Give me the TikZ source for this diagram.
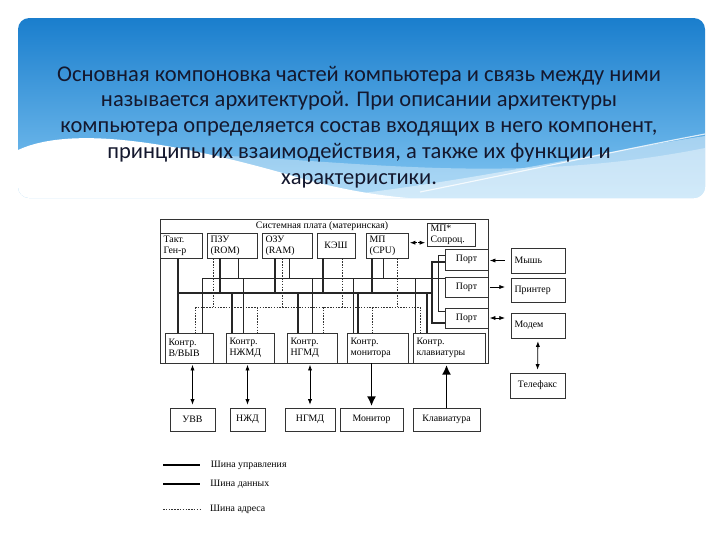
\documentclass[tikz,border=0pt]{standalone}
\usepackage{fontspec}
\setmainfont{Liberation Serif}
\newfontfamily\headfont{Carlito}
\usetikzlibrary{arrows.meta,positioning}
\definecolor{slideblue}{RGB}{26,126,205}
\definecolor{slidemid}{RGB}{70,165,228}
\definecolor{slidelow}{RGB}{130,198,242}
\definecolor{headink}{RGB}{20,24,46}

\begin{document}
\begin{tikzpicture}[x=0.025cm, y=-0.025cm,
  blk/.style={draw=black!80, line width=0.6pt, fill=white, inner xsep=2.5pt, inner ysep=0pt,
    font=\fontsize{7}{7.8}\selectfont, align=left},
  ctrl/.style={line width=1.4pt, draw=black!85},
  data/.style={line width=0.55pt, draw=black!85},
  addr/.style={line width=0.55pt, draw=black!80, dash pattern=on 1.1pt off 0.9pt},
  arr/.style={line width=0.55pt, -{Latex[length=4pt,width=3pt]}},
  darr/.style={line width=0.55pt, {Latex[length=4pt,width=3pt]}-{Latex[length=4pt,width=3pt]}},
  bigarr/.style={line width=1.4pt, -{Latex[length=7pt,width=6.5pt]}},
  lbl/.style={font=\fontsize{7}{8}\selectfont, inner sep=0pt}]
% box: [options]{name}{x1}{y1}{x2}{y2}{text}, pixel coordinates
\newcommand{\mkbox}[7][]{%
  \pgfmathsetmacro{\bw}{(#5-#3)*0.025}
  \pgfmathsetmacro{\bh}{(#6-#4)*0.025}
  \pgfmathsetmacro{\tw}{(#5-#3)*0.025-0.18}
  \node[blk, minimum width=\bw cm, minimum height=\bh cm, text width=\tw cm, #1]
    (#2) at ({(#3+#5)/2},{(#4+#6)/2}) {#7};
}
\useasboundingbox (0,0) rectangle (720,540);
\fill[white] (0,0) rectangle (720,540);
% slide header
\shade[top color=slideblue, middle color=slidemid, bottom color=slidelow, rounded corners=8pt]
  (18,18) rectangle (705,198);
\begin{scope}
  \clip[rounded corners=8pt] (18,18) rectangle (705,198);
  \fill[white, opacity=0.35] (18,172) .. controls (200,120) and (420,205) .. (705,148) -- (705,200) -- (18,200) -- cycle;
  \fill[white] (18,150) .. controls (70,126) and (170,140) .. (300,178)
    .. controls (360,195) and (420,202) .. (480,200) -- (18,200) -- cycle;
  \fill[white, opacity=0.45] (300,200) .. controls (450,186) and (600,152) .. (705,136) -- (705,200) -- cycle;
  \draw[white, line width=0.8pt, opacity=0.8] (420,192) .. controls (520,172) and (620,150) .. (705,134);
\end{scope}
\node[font=\headfont\fontsize{16}{18.4}\selectfont, text=headink, align=center] (head) at (359,127)
  {Основная компоновка частей компьютера и связь между ними\\
   называется архитектурой. При описании архитектуры\\
   компьютера определяется состав входящих в него компонент,\\
   принципы их взаимодействия, а также их функции и\\
   характеристики.};

% system board frame
\mkbox[fill=none]{board}{160}{219}{488}{363}{}
\node[lbl] (boardttl) at (322,226) {Системная плата (материнская)};

% bus levels
\coordinate (dbus) at (0,278);
\coordinate (cbus) at (0,293);
\coordinate (abus) at (0,307);

% top row
\mkbox{gen}{160}{233}{202}{258}{Такт.\\Ген-р}
\mkbox{rom}{207}{233}{257}{258}{ПЗУ\\(ROM)}
\mkbox{ram}{262}{233}{312}{258}{ОЗУ\\(RAM)}
\mkbox[align=center]{cache}{317}{233}{355}{258}{КЭШ}
\mkbox{cpu}{366}{233}{408}{258}{МП\\(CPU)}
\mkbox{copro}{427}{223}{475}{246}{МП*\\Сопроц.}
% ports
\mkbox[align=center]{port1}{445}{249}{488}{270}{Порт}
\mkbox[align=center]{port2}{445}{277}{488}{297}{Порт}
\mkbox[align=center]{port3}{445}{308}{488}{328}{Порт}
% controllers
\mkbox{kio}{165}{333}{213}{363}{Контр.\\В/ВЫВ}
\mkbox{khdd}{226}{333}{274}{363}{Контр.\\НЖМД}
\mkbox{kfdd}{287}{333}{337}{363}{Контр.\\НГМД}
\mkbox{kmon}{347}{333}{408}{363}{Контр.\\монитора}
\mkbox{kkbd}{413}{333}{485}{363}{Контр.\\клавиатуры}
% outside devices
\mkbox{mouse}{511}{248}{565}{273}{Мышь}
\mkbox{printer}{511}{278}{565}{302}{Принтер}
\mkbox{modem}{511}{313}{565}{338}{Модем}
\mkbox[align=center]{fax}{510}{373}{565}{398}{Телефакс}
\mkbox[align=center]{uvv}{170}{408}{215}{431}{УВВ}
\mkbox[align=center]{hdd}{230}{408}{265}{431}{НЖД}
\mkbox[align=center]{fdd}{285}{408}{335}{431}{НГМД}
\mkbox[align=center]{mon}{340}{408}{403}{431}{Монитор}
\mkbox[align=center]{kbd}{413}{408}{480}{431}{Клавиатура}

% buses
\draw[data] (dbus -| 202,0) -- (dbus -| port2.west);
\draw[ctrl] (cbus -| 178,0) -- (cbus -| 432,0);
\draw[addr] (abus -| 195,0) -- (abus -| 420,0);

% taps from the top row
\draw[ctrl] (gen.south -| 178,0) -- (kio.north -| 178,0);
\draw[ctrl] (rom.south -| 220,0) -- (cbus -| 220,0);
\draw[addr] (rom.south -| 213,0) -- (abus -| 213,0);
\draw[data] (rom.south -| 238,0) -- (dbus -| 238,0);
\draw[ctrl] (ram.south -| 275,0) -- (cbus -| 275,0);
\draw[addr] (ram.south -| 282,0) -- (abus -| 282,0);
\draw[data] (ram.south -| 289,0) -- (dbus -| 289,0);
\draw[ctrl] (cache.south -| 323,0) -- (cbus -| 323,0);
\draw[addr] (cache.south -| 342,0) -- (abus -| 342,0);
\draw[ctrl] (cpu.south -| 372,0) -- (cbus -| 372,0);
\draw[data] (cpu.south -| 383,0) -- (dbus -| 383,0);
\draw[addr] (cpu.south -| 397,0) -- (abus -| 397,0);

% taps to the controllers
\draw[addr] (abus -| 195,0) -- (kio.north -| 195,0);
\draw[data] (dbus -| 202,0) -- (kio.north -| 202,0);
\draw[ctrl] (cbus -| 232,0) -- (khdd.north -| 232,0);
\draw[data] (dbus -| 243,0) -- (khdd.north -| 243,0);
\draw[addr] (abus -| 257,0) -- (khdd.north -| 257,0);
\draw[ctrl] (cbus -| 298,0) -- (kfdd.north -| 298,0);
\draw[data] (dbus -| 312,0) -- (kfdd.north -| 312,0);
\draw[addr] (abus -| 323,0) -- (kfdd.north -| 323,0);
\draw[data] (dbus -| 353,0) -- (kmon.north -| 353,0);
\draw[ctrl] (cbus -| 358,0) -- (kmon.north -| 358,0);
\draw[addr] (abus -| 372,0) -- (kmon.north -| 372,0);
\draw[data] (dbus -| 415,0) -- (kkbd.north -| 415,0);
\draw[addr] (abus -| 420,0) -- (kkbd.north -| 420,0);
\draw[ctrl] (cbus -| 427,0) -- (kkbd.north -| 427,0);

% ports
\draw[data] (port1.west |- 0,255) -- (438,255) -- (438,311) -- (port3.west |- 0,311);
\draw[ctrl] (port1.west |- 0,262) -- (432,262) -- (432,323) -- (port3.west |- 0,323);
\draw[darr, dash pattern=on 1.2pt off 1pt, shorten <=1pt, shorten >=1pt]
  ([yshift=2pt]cpu.east) -- ([yshift=2pt]cpu.east -| copro.west);
\draw[arr, shorten <=4pt, shorten >=1pt] (mouse.west) -- (mouse.west -| port1.east);
\draw[arr, shorten <=1pt, shorten >=4pt] (port2.east) -- (port2.east -| printer.west);
\draw[darr, shorten <=1pt, shorten >=4pt] (port3.east) -- (port3.east -| modem.west);
\draw[darr, shorten <=2pt, shorten >=2pt] (modem.south) -- (fax.north);

% controllers to devices
\draw[darr, shorten <=1pt, shorten >=2pt] (kio.south -| uvv.north) -- (uvv.north);
\draw[darr, shorten <=1pt, shorten >=2pt] (khdd.south -| hdd.north) -- (hdd.north);
\draw[darr, shorten <=1pt, shorten >=2pt] (kfdd.south -| fdd.north) -- (fdd.north);
\draw[bigarr, shorten >=1pt] (kmon.south -| mon.north) -- (mon.north);
\draw[bigarr, shorten >=1pt] (kbd.north) -- (kbd.north |- kkbd.south);

% legend
\coordinate (lg1) at (163,465);
\coordinate (lg2) at (163,484);
\coordinate (lg3) at (163,509);
\draw[line width=1.5pt] (lg1) -- ++(37,0) node[lbl, anchor=west, xshift=7pt] (lt1) {Шина управления};
\draw[line width=0.9pt] (lg2) -- ++(37,0) node[lbl, anchor=west, xshift=7pt] (lt2) {Шина данных};
\draw[addr] (lg3) -- ++(37,0) node[lbl, anchor=west, xshift=7pt] (lt3) {Шина адреса};
\end{tikzpicture}
\end{document}
